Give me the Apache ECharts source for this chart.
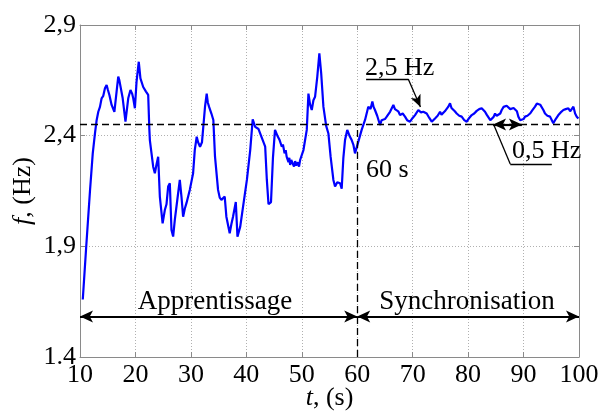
<!DOCTYPE html>
<html>
<head>
<meta charset="utf-8">
<script src="https://cdn.jsdelivr.net/npm/echarts@6/dist/echarts.min.js"></script>
<style>html,body{margin:0;padding:0;background:#fff;}#c{width:600px;height:416px;}</style>
</head>
<body>
<div id="c"></div>
<script>
// ---- data ----
var tValues = [10.5,11.1,11.8,12.3,12.7,13.0,13.3,13.6,13.9,14.2,14.5,14.8,15.0,15.3,15.7,16.0,16.2,16.6,16.9,17.1,17.3,17.7,18.2,18.7,19.1,19.4,19.6,19.9,20.2,20.6,20.9,21.1,21.4,21.9,22.3,22.5,22.6,22.9,23.2,23.5,23.8,24.1,24.4,24.9,25.3,25.6,25.9,26.2,26.5,26.8,27.1,27.4,28.0,28.3,28.6,28.9,29.2,29.8,30.4,30.7,31.05,31.3,31.65,32.0,32.24,32.55,32.85,33.05,33.27,33.7,34.05,34.35,34.9,35.2,35.5,36.1,36.4,37.0,37.3,37.6,38.1,38.4,38.9,39.5,40.1,40.7,41.15,41.6,42.2,42.8,43.4,43.7,44.0,44.45,44.8,45.17,45.6,46.0,46.4,46.6,46.9,47.1,47.27,47.6,47.75,47.9,48.1,48.3,48.6,48.8,49.0,49.3,49.5,49.7,50.3,50.9,51.2,51.5,51.8,52.1,52.4,52.8,53.17,53.5,53.9,54.4,54.8,55.2,55.7,56.0,56.4,56.9,57.2,57.5,57.8,58.2,58.6,59.0,59.3,59.6,60.2,60.8,61.41,62.0,62.4,62.73,62.95,63.2,63.6,64.11,64.4,64.71,65.0,65.32,65.6,65.92,66.2,66.52,66.8,67.12,67.4,67.72,68.2,68.62,69.0,69.52,70.0,70.43,70.7,71.02,71.5,71.92,72.2,72.53,73.0,73.44,73.7,74.03,74.5,74.94,75.2,75.53,75.8,76.14,76.4,76.74,77.0,77.33,77.6,77.94,78.4,78.84,79.3,79.75,80.2,80.65,81.1,81.55,82.0,82.45,82.75,83.05,83.35,83.65,84.0,84.26,84.6,84.86,85.15,85.45,85.8,86.06,86.4,86.66,86.95,87.26,87.6,87.87,88.2,88.46,88.8,89.06,89.4,89.67,90.0,90.27,90.7,91.17,91.6,92.07,92.4,92.67,93.0,93.27,93.6,93.87,94.3,94.78,95.1,95.37,95.8,96.28,96.7,97.18,97.6,98.08,98.4,98.69,98.99,99.3,99.59,99.89];
var fValues = [1.66,1.89,2.15,2.32,2.41,2.47,2.508,2.53,2.569,2.58,2.614,2.629,2.61,2.584,2.539,2.53,2.508,2.599,2.667,2.65,2.659,2.569,2.463,2.569,2.606,2.59,2.569,2.524,2.644,2.734,2.659,2.65,2.62,2.599,2.584,2.433,2.38,2.32,2.26,2.23,2.27,2.305,2.125,2.004,2.064,2.09,2.17,2.185,1.974,1.944,2.02,2.08,2.2,2.125,2.034,2.07,2.095,2.155,2.23,2.335,2.395,2.37,2.35,2.37,2.366,2.531,2.59,2.55,2.531,2.50,2.471,2.305,2.155,2.12,2.11,2.125,2.034,1.959,2.0,2.034,2.10,1.944,1.989,2.095,2.2,2.335,2.474,2.44,2.43,2.39,2.35,2.20,2.09,2.10,2.30,2.426,2.40,2.38,2.35,2.36,2.32,2.335,2.305,2.28,2.30,2.268,2.29,2.29,2.26,2.285,2.265,2.28,2.26,2.29,2.335,2.426,2.59,2.54,2.516,2.56,2.576,2.667,2.772,2.682,2.531,2.444,2.41,2.305,2.2,2.17,2.19,2.185,2.16,2.30,2.38,2.426,2.40,2.38,2.36,2.32,2.373,2.426,2.471,2.531,2.52,2.554,2.53,2.516,2.49,2.448,2.47,2.463,2.475,2.486,2.49,2.508,2.515,2.539,2.52,2.524,2.51,2.493,2.50,2.486,2.47,2.463,2.48,2.493,2.50,2.516,2.505,2.508,2.515,2.50,2.48,2.463,2.47,2.478,2.49,2.508,2.495,2.50,2.51,2.516,2.53,2.546,2.525,2.516,2.51,2.50,2.49,2.486,2.47,2.463,2.48,2.493,2.50,2.512,2.52,2.524,2.515,2.508,2.495,2.486,2.47,2.463,2.485,2.50,2.49,2.486,2.50,2.516,2.53,2.539,2.535,2.531,2.52,2.516,2.525,2.531,2.51,2.486,2.47,2.463,2.475,2.486,2.49,2.50,2.515,2.531,2.545,2.554,2.54,2.531,2.515,2.50,2.49,2.486,2.47,2.456,2.475,2.493,2.505,2.516,2.52,2.524,2.51,2.516,2.531,2.50,2.486,2.478];
var xTickLabels = ['10','20','30','40','50','60','70','80','90','100'];
var yTickLabels = ['1.4','1,9','2,4','2,9'];
var refFreq = 2.45;        // dashed reference level
var switchTime = 60;       // learning -> synchronisation
var phaseArrowLevel = 1.583;
var phaseNames = ['Apprentissage','Synchronisation'];
var annotTexts = ['60 s','2,5 Hz','0,5 Hz'];

var FONT = 'Liberation Serif';
var chart = echarts.init(document.getElementById('c'), null, {renderer:'canvas'});
var seriesData = tValues.map(function(t,i){return [t,fValues[i]];});
var frame = '#8a8a8a';

function axisBase(){
  return {
    type:'value', min:10, max:100, interval:10,
    axisLine:{show:true,lineStyle:{color:frame,width:1}},
    axisTick:{show:true,inside:true,length:5,lineStyle:{color:frame}},
    splitLine:{show:false}
  };
}
var x0 = axisBase();
x0.position='bottom';
x0.axisLabel={fontFamily:FONT,fontSize:26,color:'#000',margin:5,
  formatter:function(v){var i=Math.round((v-10)/10);return xTickLabels[i];}};
x0.splitLine={show:true,lineStyle:{color:'#b0b0b0',type:[1,2],width:1}};
x0.name='{i|t}{r|, (s)}';
x0.nameLocation='middle';
x0.nameGap=28;
x0.nameMoveOverlap=false;
x0.nameTextStyle={rich:{i:{fontFamily:FONT,fontSize:26,fontStyle:'italic',color:'#000'},r:{fontFamily:FONT,fontSize:26,color:'#000'}}};
var x1 = axisBase();
x1.position='top'; x1.axisLabel={show:false};

function yBase(){
  var a=axisBase(); a.min=1.4; a.max=2.9; a.interval=0.5; return a;
}
var y0=yBase();
y0.position='left';
y0.axisLabel={fontFamily:FONT,fontSize:26,color:'#000',margin:4,
  formatter:function(v){var i=Math.round((v-1.4)/0.5);return yTickLabels[i];}};
y0.splitLine={show:true,lineStyle:{color:'#b0b0b0',type:[1,2],width:1}};
y0.name='{i|f}{r|, (Hz)}';
y0.nameLocation='middle';
y0.nameGap=44;
y0.nameMoveOverlap=false;
y0.nameTextStyle={rich:{i:{fontFamily:FONT,fontSize:26,fontStyle:'italic',color:'#000'},r:{fontFamily:FONT,fontSize:26,color:'#000'}}};
var y1=yBase(); y1.position='right'; y1.axisLabel={show:false};

var option = {
  animation:false,
  backgroundColor:'#fff',
  grid:{left:80,top:25,right:21,bottom:59,containLabel:false,outerBoundsMode:'none'},
  xAxis:[x0,x1],
  yAxis:[y0,y1],
  series:[
    {type:'line',data:seriesData,showSymbol:false,symbol:'none',
     lineStyle:{color:'#0000ff',width:2.2},z:3},
    {type:'line',data:[],silent:true,z:2,
     markLine:{silent:true,symbol:['none','none'],label:{show:false},
       lineStyle:{color:'#000',type:[7,4],width:1.3},
       data:[
         [{coord:[10,refFreq]},{coord:[100,refFreq]}],
         [{coord:[switchTime,1.4]},{coord:[switchTime,refFreq]}]
       ]}},
    {type:'line',data:[],silent:true,z:4,
     markLine:{silent:true,symbol:['arrow','arrow'],symbolSize:[9,13],label:{show:false},
       lineStyle:{color:'#000',type:'solid',width:2.2},
       data:[
         [{coord:[10,phaseArrowLevel]},{coord:[switchTime,phaseArrowLevel]}],
         [{coord:[switchTime,phaseArrowLevel]},{coord:[100,phaseArrowLevel]}],
         [{coord:[84.5,refFreq]},{coord:[89.7,refFreq]}]
       ]}},
    {type:'line',data:[],silent:true,z:4,
     markLine:{silent:true,symbol:['none','none'],label:{show:false},
       lineStyle:{color:'#000',type:'solid',width:1.3},
       data:[
         [{coord:[61.6,2.656]},{coord:[69.2,2.656]}],
         [{coord:[84.7,2.445]},{coord:[87.6,2.272]}],
         [{coord:[87.6,2.272]},{coord:[95.1,2.272]}]
       ]}},
    {type:'line',data:[],silent:true,z:4,
     markLine:{silent:true,symbol:['none','arrow'],symbolSize:[8,12],label:{show:false},
       lineStyle:{color:'#000',type:'solid',width:1.3},
       data:[
         [{coord:[69.2,2.656]},{coord:[71.4,2.530]}]
       ]}}
  ]
};
chart.setOption(option);

function px(t,f){return chart.convertToPixel({xAxisIndex:0,yAxisIndex:0},[t,f]);}
var textDefs = [
  {txt:phaseNames[0],at:[34.35,1.651],align:'center',size:27},
  {txt:phaseNames[1],at:[79.8,1.651],align:'center',size:27},
  {txt:annotTexts[0],at:[61.6,2.243],align:'left',size:26},
  {txt:annotTexts[1],at:[61.4,2.703],align:'left',size:26},
  {txt:annotTexts[2],at:[87.9,2.331],align:'left',size:26}
];
var g = textDefs.map(function(d){
  var p=px(d.at[0],d.at[1]);
  return {type:'text',x:p[0],y:p[1],z:10,silent:true,
    style:{text:d.txt,fill:'#000',font:d.size+'px "'+FONT+'"',align:d.align,verticalAlign:'middle'}};
});
chart.setOption({graphic:g});
</script>
</body>
</html>
